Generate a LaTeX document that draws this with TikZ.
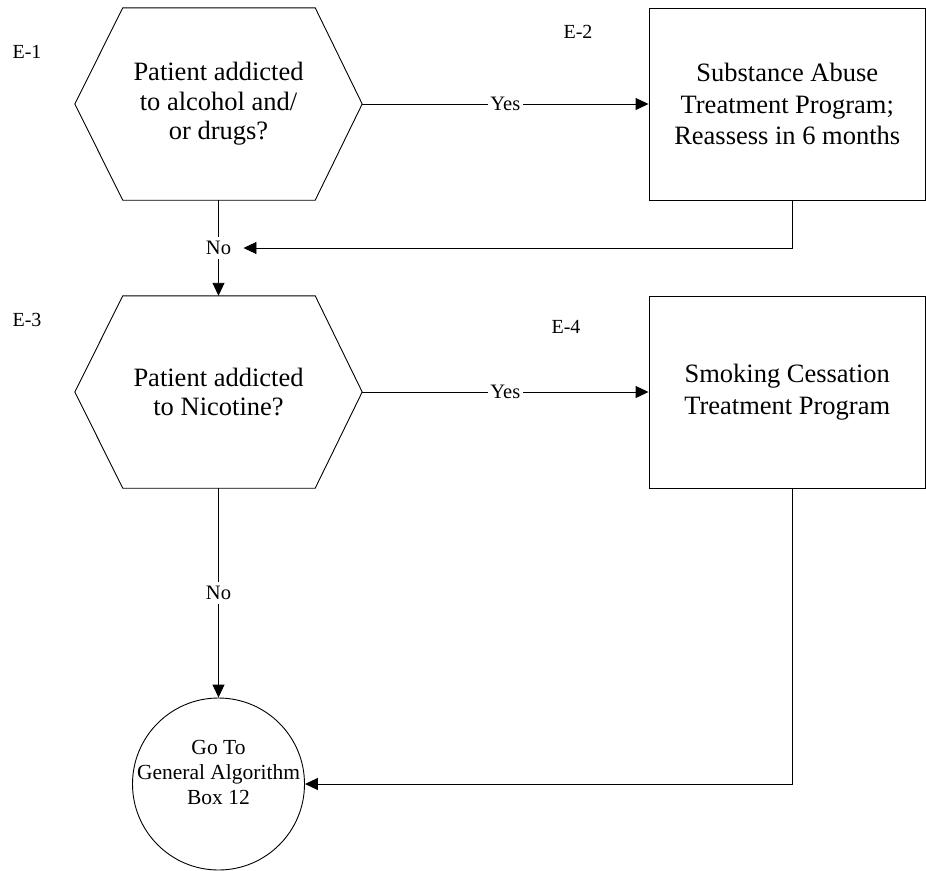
\documentclass[tikz,border=0pt]{standalone}
\usepackage{fontspec}
\setmainfont{Liberation Serif}
\usetikzlibrary{arrows.meta,calc}

\tikzset{
  line/.style={draw=black, line width=0.9pt},
  flow/.style={line, -{Triangle[length=13pt,width=12pt]}},
  hexnode/.style={rectangle, minimum width=287pt, minimum height=192pt, inner sep=0pt,
    align=center, font=\fontsize{26.5}{29.5}\selectfont},
  procbox/.style={line, rectangle, minimum width=276.5pt, minimum height=192pt, inner sep=0pt,
    align=center, font=\fontsize{26.5}{31.5}\selectfont},
  endcircle/.style={line, circle, minimum size=172pt, inner sep=0pt},
  lbl/.style={fill=white, inner sep=2.5pt, font=\fontsize{20.5}{24}\selectfont},
  tag/.style={inner sep=0pt, font=\fontsize{20}{24}\selectfont},
}

% outline of a decision node: pointed on the left and right
\newcommand{\hexoutline}[1]{%
  \draw[line] (#1.west) -- ([xshift=48pt]#1.north west) -- ([xshift=-47pt]#1.north east)
    -- (#1.east) -- ([xshift=-47pt]#1.south east) -- ([xshift=48pt]#1.south west) -- cycle;}

\begin{document}
\begin{tikzpicture}[x=1pt, y=-1pt]
  \useasboundingbox (0,0) rectangle (926,870);

  % decisions
  \node[hexnode] (hex1) at (218.5,104) {Patient addicted\\to alcohol and/\\or drugs?};
  \hexoutline{hex1}
  \node[hexnode] (hex2) at (218.5,392) {Patient addicted\\to Nicotine?};
  \hexoutline{hex2}

  % treatment programs
  \node[procbox] (box1) at (787.25,104) {Substance Abuse\\Treatment Program;\\Reassess in 6 months};
  \node[procbox] (box2) at (787.25,392) {Smoking Cessation\\Treatment Program};

  % exit to the general algorithm
  \node[endcircle] (goto) at (218.5,784) {};
  \node[align=center, inner sep=0pt, font=\fontsize{21.5}{25}\selectfont] (gototext)
    at ([yshift=12pt]goto.center) {Go To\\General Algorithm\\Box 12};

  % step tags
  \node[tag] (e1) at (27,52) {E-1};
  \node[tag] (e2) at (578,32) {E-2};
  \node[tag] (e3) at (27,320) {E-3};
  \node[tag] (e4) at (566,327) {E-4};

  % connectors
  \draw[flow] (hex1.east) -- node[lbl] (yes1) {Yes} (box1.west);
  \draw[flow] (hex1.south) -- node[lbl, inner sep=4pt] (no1) {No} (hex2.north);
  \draw[flow, shorten >=8pt] ([xshift=5pt]box1.south) |- (no1.east);

  \draw[flow] (hex2.east) -- node[lbl] (yes2) {Yes} (box2.west);
  \draw[flow] (hex2.south) -- node[lbl, inner sep=4pt] (no2) {No} (goto.north);
  \draw[flow] ([xshift=5pt]box2.south) |- (goto.east);
\end{tikzpicture}
\end{document}
